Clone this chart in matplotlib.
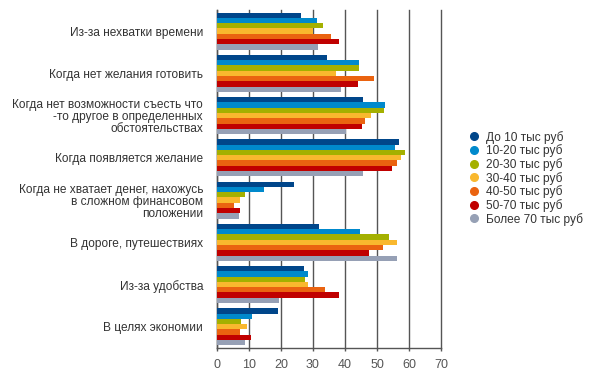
import numpy as np
from matplotlib import pyplot as plt
from matplotlib.lines import Line2D

plt.rcParams['font.family'] = ['Liberation Sans', 'DejaVu Sans']

categories = [
    "Из-за нехватки времени",
    "Когда нет желания готовить",
    "Когда нет возможности съесть что\n-то другое в определенных\nобстоятельствах",
    "Когда появляется желание",
    "Когда не хватает денег, нахожусь\nв сложном финансовом\nположении",
    "В дороге, путешествиях",
    "Из-за удобства",
    "В целях экономии",
]

series_names = [
    "До 10 тыс руб",
    "10-20 тыс руб",
    "20-30 тыс руб",
    "30-40 тыс руб",
    "40-50 тыс руб",
    "50-70 тыс руб",
    "Более 70 тыс руб",
]

do_10 = [26.1, 34.3, 45.5, 56.8, 24.0, 31.8, 27.1, 19.0]
r10_20 = [31.1, 44.3, 52.4, 55.5, 14.6, 44.6, 28.3, 10.8]
r20_30 = [33.0, 44.3, 52.1, 58.6, 8.6, 53.6, 27.4, 7.4]
r30_40 = [29.9, 37.1, 48.0, 57.4, 7.1, 56.1, 28.3, 9.3]
r40_50 = [35.5, 49.0, 46.1, 56.1, 5.2, 51.8, 33.6, 7.1]
r50_70 = [38.0, 44.0, 45.2, 54.6, 7.1, 47.4, 38.0, 10.5]
bolee_70 = [31.5, 38.6, 40.2, 45.5, 6.8, 56.1, 19.3, 8.6]

series = [do_10, r10_20, r20_30, r30_40, r40_50, r50_70, bolee_70]
colors = ["#00468a", "#0089cc", "#a4b000", "#f9b82e", "#ea6310", "#c00000", "#96a0b5"]

fig = plt.figure(figsize=(5.94, 3.84), dpi=100)
ax = fig.add_axes([0.3653, 0.094, 0.3771, 0.880])

y = np.arange(len(categories))
h = 0.125
for i, (vals, col) in enumerate(zip(series, colors)):
    offs = (i - 3) * h
    ax.barh(y + offs, vals, height=h, color=col, zorder=3)

ax.set_xlim(0, 70)
ax.set_ylim(len(categories) - 0.5, -0.5)
ax.set_xticks(range(0, 71, 10))
ax.set_yticks(y)
ax.set_yticklabels(categories, fontsize=8.6, color="#333333", ha="right", linespacing=1.0)
ax.tick_params(axis="y", length=0, pad=10)
ax.tick_params(axis="x", length=2, width=1.0, color="#555555", pad=6,
               labelsize=9, labelcolor="#555555")
ax.grid(axis="x", color="#555555", linewidth=1.0, zorder=0)
for g in ax.xaxis.get_gridlines():
    g.set_clip_on(False)
for s in ["top", "right"]:
    ax.spines[s].set_visible(False)
for s in ["left", "bottom"]:
    ax.spines[s].set_color("#555555")
    ax.spines[s].set_linewidth(1.0)

handles = [Line2D([], [], marker="o", linestyle="", markersize=5.5,
                  markerfacecolor=c, markeredgecolor=c) for c in colors]
fig.legend(handles, series_names, loc="upper left", bbox_to_anchor=(0.780, 0.672),
           frameon=False, fontsize=8.6, handletextpad=0.5, labelspacing=0.06,
           borderaxespad=0, handlelength=1.0, labelcolor="#333333")

fig.savefig("out.png", dpi=100)
